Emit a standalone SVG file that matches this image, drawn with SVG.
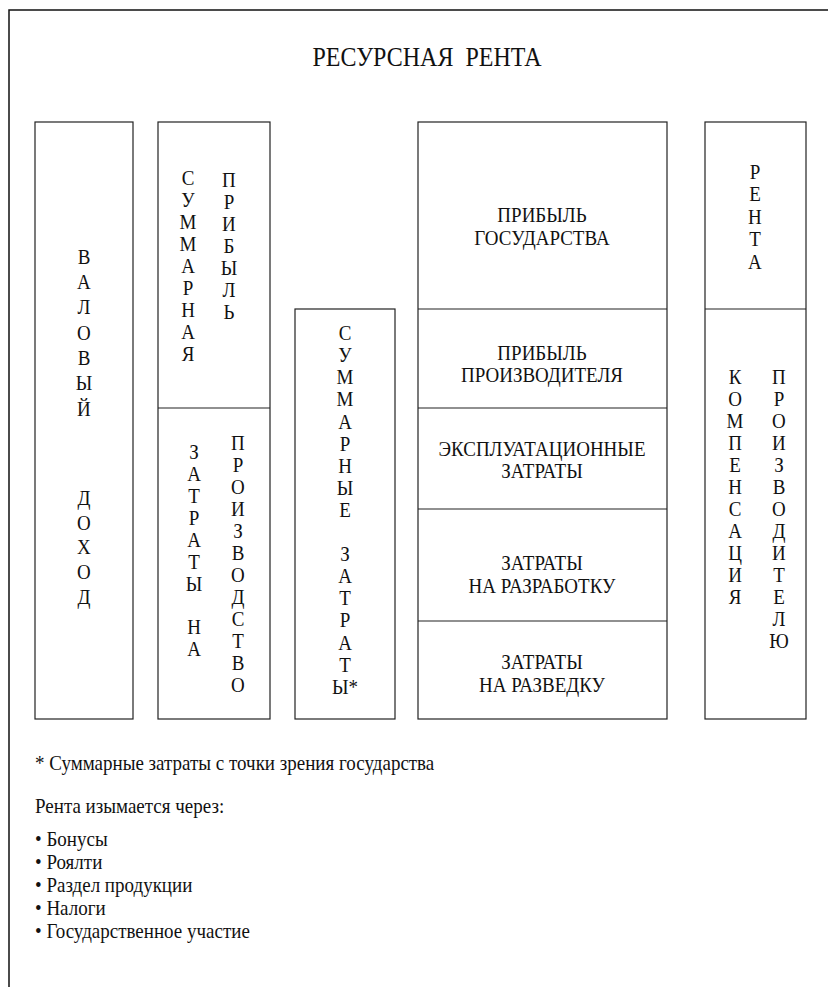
<svg xmlns="http://www.w3.org/2000/svg" width="828" height="987" viewBox="0 0 828 987" font-family="'Liberation Serif', 'DejaVu Serif', serif">
<style>
text{font-family:'Liberation Serif','DejaVu Serif',serif;fill:#111;transform-box:fill-box;transform-origin:center;transform:scaleY(1.15);}
.t{font-size:19px;text-anchor:middle;}
.title{font-size:24px;text-anchor:middle;}
.note{font-size:19px;}
.box{fill:#fff;stroke:#222;stroke-width:1.2;}
.div{stroke:#222;stroke-width:1.2;}
</style>
<rect width="828" height="987" fill="#fff"/>
<path d="M9,987 V10 H828" fill="none" stroke="#111" stroke-width="1.5"/>
<text class="title" x="427" y="65">РЕСУРСНАЯ&#160; РЕНТА</text>

<g id="valovoy">
<rect class="box" x="35" y="122" width="98" height="597"/>
<text class="t" x="84" y="263">В</text><text class="t" x="84" y="288">А</text><text class="t" x="84" y="313">Л</text><text class="t" x="84" y="339">О</text><text class="t" x="84" y="364">В</text><text class="t" x="84" y="389">Ы</text><text class="t" x="84" y="415">Й</text><text class="t" x="84" y="504">Д</text><text class="t" x="84" y="529">О</text><text class="t" x="84" y="553">Х</text><text class="t" x="84" y="578">О</text><text class="t" x="84" y="603">Д</text>
</g>

<g id="summarnaya">
<rect class="box" x="158" y="122" width="112" height="597"/>
<line class="div" x1="158" y1="408" x2="270" y2="408"/>
<text class="t" x="188" y="184">С</text><text class="t" x="188" y="206">У</text><text class="t" x="188" y="228">М</text><text class="t" x="188" y="250">М</text><text class="t" x="188" y="272">А</text><text class="t" x="188" y="294">Р</text><text class="t" x="188" y="316">Н</text><text class="t" x="188" y="338">А</text><text class="t" x="188" y="360">Я</text>
<text class="t" x="229" y="186">П</text><text class="t" x="229" y="208">Р</text><text class="t" x="229" y="230">И</text><text class="t" x="229" y="252">Б</text><text class="t" x="229" y="274">Ы</text><text class="t" x="229" y="296">Л</text><text class="t" x="229" y="318">Ь</text>
<text class="t" x="194" y="458">З</text><text class="t" x="194" y="480">А</text><text class="t" x="194" y="502">Т</text><text class="t" x="194" y="524">Р</text><text class="t" x="194" y="546">А</text><text class="t" x="194" y="568">Т</text><text class="t" x="194" y="590">Ы</text><text class="t" x="194" y="633">Н</text><text class="t" x="194" y="655">А</text>
<text class="t" x="238" y="449">П</text><text class="t" x="238" y="471">Р</text><text class="t" x="238" y="493">О</text><text class="t" x="238" y="515">И</text><text class="t" x="238" y="537">З</text><text class="t" x="238" y="559">В</text><text class="t" x="238" y="581">О</text><text class="t" x="238" y="603">Д</text><text class="t" x="238" y="625">С</text><text class="t" x="238" y="647">Т</text><text class="t" x="238" y="669">В</text><text class="t" x="238" y="691">О</text>
</g>

<g id="summarnye-zatraty">
<rect class="box" x="295" y="309" width="100" height="410"/>
<text class="t" x="345" y="339">С</text><text class="t" x="345" y="361">У</text><text class="t" x="345" y="383">М</text><text class="t" x="345" y="405">М</text><text class="t" x="345" y="428">А</text><text class="t" x="345" y="450">Р</text><text class="t" x="345" y="472">Н</text><text class="t" x="345" y="494">Ы</text><text class="t" x="345" y="516">Е</text><text class="t" x="345" y="560">З</text><text class="t" x="345" y="582">А</text><text class="t" x="345" y="604">Т</text><text class="t" x="345" y="626">Р</text><text class="t" x="345" y="649">А</text><text class="t" x="345" y="671">Т</text><text class="t" x="345" y="693">Ы*</text>
</g>

<g id="struktura">
<rect class="box" x="418" y="122" width="249" height="597"/>
<line class="div" x1="418" y1="309" x2="667" y2="309"/>
<line class="div" x1="418" y1="408" x2="667" y2="408"/>
<line class="div" x1="418" y1="509" x2="667" y2="509"/>
<line class="div" x1="418" y1="621" x2="667" y2="621"/>
<text class="t" x="542" y="221">ПРИБЫЛЬ</text>
<text class="t" x="542" y="244">ГОСУДАРСТВА</text>
<text class="t" x="542" y="359">ПРИБЫЛЬ</text>
<text class="t" x="542" y="381">ПРОИЗВОДИТЕЛЯ</text>
<text class="t" x="542" y="455">ЭКСПЛУАТАЦИОННЫЕ</text>
<text class="t" x="542" y="477">ЗАТРАТЫ</text>
<text class="t" x="542" y="569">ЗАТРАТЫ</text>
<text class="t" x="542" y="592">НА РАЗРАБОТКУ</text>
<text class="t" x="542" y="668">ЗАТРАТЫ</text>
<text class="t" x="542" y="691">НА РАЗВЕДКУ</text>
</g>

<g id="renta">
<rect class="box" x="705" y="122" width="101" height="597"/>
<line class="div" x1="705" y1="309" x2="806" y2="309"/>
<text class="t" x="755" y="178">Р</text><text class="t" x="755" y="200">Е</text><text class="t" x="755" y="223">Н</text><text class="t" x="755" y="245">Т</text><text class="t" x="755" y="268">А</text>
<text class="t" x="735" y="383">К</text><text class="t" x="735" y="405">О</text><text class="t" x="735" y="427">М</text><text class="t" x="735" y="449">П</text><text class="t" x="735" y="471">Е</text><text class="t" x="735" y="493">Н</text><text class="t" x="735" y="515">С</text><text class="t" x="735" y="537">А</text><text class="t" x="735" y="559">Ц</text><text class="t" x="735" y="581">И</text><text class="t" x="735" y="603">Я</text>
<text class="t" x="779" y="383">П</text><text class="t" x="779" y="405">Р</text><text class="t" x="779" y="427">О</text><text class="t" x="779" y="449">И</text><text class="t" x="779" y="471">З</text><text class="t" x="779" y="493">В</text><text class="t" x="779" y="515">О</text><text class="t" x="779" y="537">Д</text><text class="t" x="779" y="559">И</text><text class="t" x="779" y="581">Т</text><text class="t" x="779" y="603">Е</text><text class="t" x="779" y="625">Л</text><text class="t" x="779" y="647">Ю</text>
</g>

<g id="notes">
<text class="note" x="35" y="769">* Суммарные затраты с точки зрения государства</text>
<text class="note" x="35" y="812">Рента изымается через:</text>
<text class="note" x="35" y="845">• Бонусы</text>
<text class="note" x="35" y="868">• Роялти</text>
<text class="note" x="35" y="891">• Раздел продукции</text>
<text class="note" x="35" y="914">• Налоги</text>
<text class="note" x="35" y="937">• Государственное участие</text>
</g>
</svg>
